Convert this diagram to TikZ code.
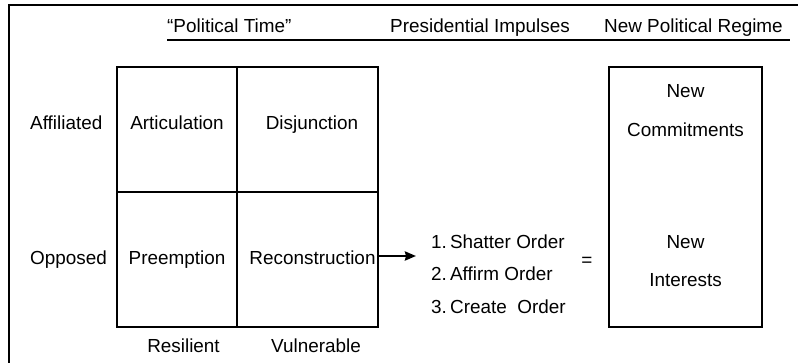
\documentclass[tikz,border=0pt]{standalone}
\usepackage{fontspec}
\setmainfont{Liberation Sans}
\usetikzlibrary{arrows.meta}

\begin{document}
\begin{tikzpicture}[x=1pt,y=-1pt,>={Stealth[length=11pt,width=9pt,inset=1pt]},
    font=\fontsize{18.9}{22}\selectfont,
    cell/.style={draw,line width=1.3pt,inner sep=0pt},
    lbl/.style={anchor=base,inner sep=0pt},
    lblw/.style={anchor=base west,inner sep=0pt}]
                        \useasboundingbox (0,0) rectangle (798,362);
                        % frame and header
                        \draw[line width=1.3pt] (9,366) -- (9,5) -- (802,5);
                        \node[lblw] (ptime) at (167,32) {“Political Time”};
                        \node[lblw] (impulses) at (390,32) {Presidential Impulses};
                        \node[lblw] (regime) at (604,32) {New Political Regime};
                        \draw[line width=1.3pt] (167,40) -- (790,40);
                        % the four cells
                        \node[cell,minimum width=120pt,minimum height=125pt] (art) at (177,129.5) {};
                        \node[cell,minimum width=141pt,minimum height=125pt] (dis) at (307.5,129.5) {};
                        \node[cell,minimum width=120pt,minimum height=135pt] (pre) at (177,259.5) {};
                        \node[cell,minimum width=141pt,minimum height=135pt] (rec) at (307.5,259.5) {};
                        \node[lbl] at (177,129) {Articulation};
                        \node[lbl] at (312,129) {Disjunction};
                        \node[lbl] at (177,264) {Preemption};
                        \node[lbl] at (312.5,264) {Reconstruction};
                        \node[lblw] (aff) at (30,129) {Affiliated};
                        \node[lblw] (opp) at (30,264) {Opposed};
                        \node[lbl] (res) at (183.5,352) {Resilient};
                        \node[lbl] (vul) at (316,352) {Vulnerable};
                        % impulses
                        \coordinate (tip) at (416,256);
                        \draw[->,line width=2.5pt] (rec.east |- tip) -- (tip);
                        \node[lblw] (s1) at (431,248) {1.\,Shatter Order};
                        \node[lblw] (s2) at (431,280.5) {2.\,Affirm Order};
                        \node[lblw] (s3) at (431,313) {3.\,Create\ \ Order};
                        \node (eq) at (587,262) {=};
                        % new regime
                        \node[cell,minimum width=153pt,minimum height=260pt] (box) at (685.5,197) {};
                        \node[lbl] at (685.5,97) {New};
                        \node[lbl] at (685.5,136) {Commitments};
                        \node[lbl] at (685.5,248) {New};
                        \node[lbl] at (685.5,286) {Interests};
                    \end{tikzpicture}
\end{document}
